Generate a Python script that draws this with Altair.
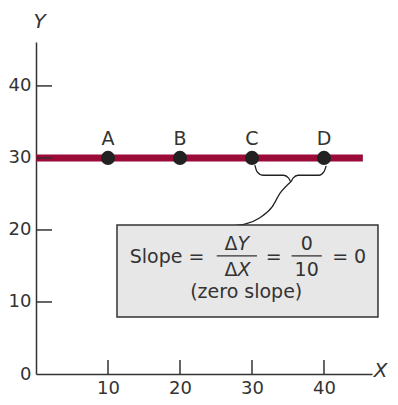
import altair as alt
import pandas as pd

FONT = "DejaVu Sans"
TXT = "#333333"

# ---- data ----
x_tick_values = [10, 20, 30, 40]
y_tick_values = [10, 20, 30, 40]
y_label_values = [0, 10, 20, 30, 40]

point_x = [10, 20, 30, 40]
point_y = [30, 30, 30, 30]
point_labels = ["A", "B", "C", "D"]

line_x = [0, 45.4]
line_y = [30, 30]

brace_x = [30.4, 30.7, 31.5, 34.4, 35.1, 35.4, 35.7, 36.4, 39.3, 40.0, 40.3]
brace_y = [29.0, 28.1, 27.6, 27.6, 27.2, 26.7, 27.2, 27.6, 27.6, 28.1, 28.9]

conn_x = [27.4, 29.0, 31.1, 32.8, 33.9, 35.4]
conn_y = [20.6, 20.8, 21.7, 23.2, 25.1, 26.7]

box_x = [11.25]
box_x2 = [47.5]
box_y = [7.9]
box_y2 = [20.7]

# centred upright texts in the box
box_texts = ["Slope =", "=", "0", "10", "= 0", "(zero slope)"]
box_text_x = [18.2, 33.0, 37.6, 37.6, 43.5, 29.2]
box_text_y = [16.3, 16.3, 18.0, 14.4, 16.3, 11.4]

# "Δ" (upright) followed by italic variable name
delta_texts = ["Δ", "Δ"]
var_texts = ["Y", "X"]
delta_x = [28.0, 28.0]
delta_y = [18.0, 14.4]

frac_x = [25.1, 35.5]
frac_x2 = [30.7, 39.7]
frac_y = [16.4, 16.4]

# ---- scales and axes ----
xs = alt.Scale(domain=[0, 46.67], nice=False, zero=False)
ys = alt.Scale(domain=[0, 46.1], nice=False, zero=False)

x_axis = alt.Axis(values=x_tick_values, ticks=False, grid=False, labelPadding=5,
                  labelFlush=False, domainColor=TXT, domainWidth=1.5,
                  labelFont=FONT, labelFontSize=18, labelColor=TXT,
                  title="X", titleFont=FONT, titleFontSize=20, titleFontStyle="italic",
                  titleFontWeight="normal", titleColor=TXT, titleX=344, titleY=-4,
                  titleAlign="center", titleBaseline="middle")
y_axis = alt.Axis(values=y_label_values, ticks=False, grid=False, labelPadding=5,
                  labelFlush=False, domainColor=TXT, domainWidth=1.5,
                  labelFont=FONT, labelFontSize=18, labelColor=TXT,
                  title="Y", titleFont=FONT, titleFontSize=20, titleFontStyle="italic",
                  titleFontWeight="normal", titleColor=TXT, titleAngle=0, titleX=3,
                  titleY=-21, titleAlign="center", titleBaseline="middle")


def X(field="x:Q"):
    return alt.X(field, scale=xs, axis=x_axis)


def Y(field="y:Q"):
    return alt.Y(field, scale=ys, axis=y_axis)


line_df = pd.DataFrame({"x": line_x, "y": line_y})
line = alt.Chart(line_df).mark_line(color="#9b0b37", strokeWidth=7, strokeCap="butt").encode(
    x=X(), y=Y())

ytick_df = pd.DataFrame({"y": y_tick_values})
yticks = alt.Chart(ytick_df).mark_rule(color=TXT, strokeWidth=1.5).encode(
    y=Y(), x=alt.value(0), x2=alt.value(16))

xtick_df = pd.DataFrame({"x": x_tick_values})
xticks = alt.Chart(xtick_df).mark_rule(color=TXT, strokeWidth=1.5).encode(
    x=X(), y=alt.value(332), y2=alt.value(318))

pts_df = pd.DataFrame({"x": point_x, "y": point_y, "lab": point_labels})
pts = alt.Chart(pts_df).mark_circle(size=200, color="#222222", opacity=1).encode(x=X(), y=Y())
pt_labels = alt.Chart(pts_df).mark_text(font=FONT, fontSize=19, color=TXT, dy=-19,
                                        baseline="middle").encode(x=X(), y=Y(), text="lab:N")

brace_df = pd.DataFrame({"x": brace_x, "y": brace_y, "o": list(range(len(brace_x)))})
brace = alt.Chart(brace_df).mark_line(color="#222222", strokeWidth=1.3,
                                      interpolate="monotone").encode(x=X(), y=Y(), order="o:Q")

conn_df = pd.DataFrame({"x": conn_x, "y": conn_y, "o": list(range(len(conn_x)))})
conn = alt.Chart(conn_df).mark_line(color="#222222", strokeWidth=1.3,
                                    interpolate="monotone").encode(x=X(), y=Y(), order="o:Q")

box_df = pd.DataFrame({"x": box_x, "x2": box_x2, "y": box_y, "y2": box_y2})
box = alt.Chart(box_df).mark_rect(fill="#e7e7e7", stroke="#333333", strokeWidth=1.5).encode(
    x=X(), x2="x2:Q", y=Y(), y2="y2:Q")

bt_df = pd.DataFrame({"x": box_text_x, "y": box_text_y, "t": box_texts})
btext = alt.Chart(bt_df).mark_text(font=FONT, fontSize=19, color=TXT, baseline="middle").encode(
    x=X(), y=Y(), text="t:N")

dl_df = pd.DataFrame({"x": delta_x, "y": delta_y, "d": delta_texts, "v": var_texts})
deltas = alt.Chart(dl_df).mark_text(font=FONT, fontSize=19, color=TXT, baseline="middle",
                                    align="right").encode(x=X(), y=Y(), text="d:N")
dvars = alt.Chart(dl_df).mark_text(font=FONT, fontSize=19, color=TXT, baseline="middle",
                                   align="left", fontStyle="italic").encode(
    x=X(), y=Y(), text="v:N")

frac_df = pd.DataFrame({"x": frac_x, "x2": frac_x2, "y": frac_y})
fracs = alt.Chart(frac_df).mark_rule(color=TXT, strokeWidth=1.3).encode(
    x=X(), x2="x2:Q", y=Y())

chart = alt.layer(line, yticks, xticks, brace, conn, box, btext, deltas, dvars, fracs,
                  pts, pt_labels).properties(
    width=336, height=332,
    autosize=alt.AutoSizeParams(type="none"),
    padding={"left": 28, "top": 34, "right": 18, "bottom": 27},
    background="white",
).configure_view(stroke=None)

chart.save("out.html", embed_options={"renderer": "svg", "actions": False})
